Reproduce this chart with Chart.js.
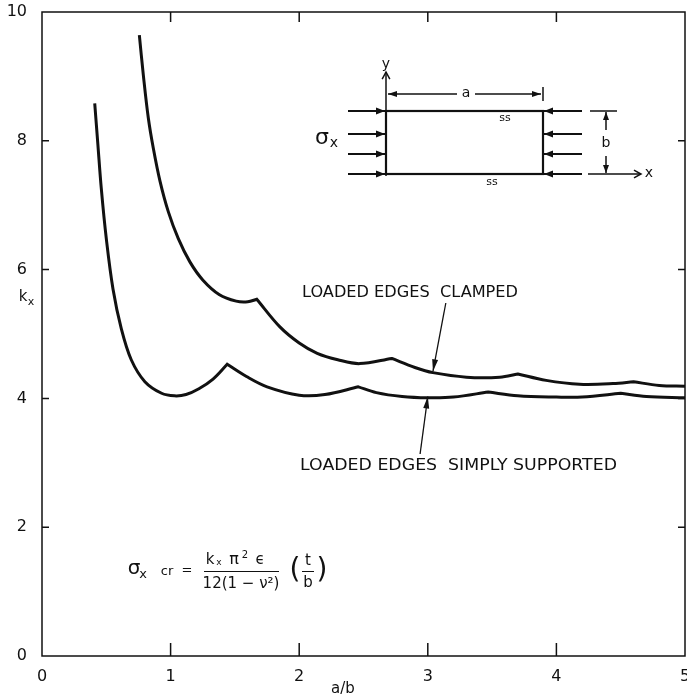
<!DOCTYPE html>
<html>
<head>
<meta charset="utf-8">
<script src="https://cdn.jsdelivr.net/npm/chart.js@4"></script>
<style>
  html, body { margin: 0; background: #fff; }
</style>
</head>
<body>
<canvas id="chart" width="687" height="698"></canvas>
<script>
// Values: buckling coefficient k_x against aspect ratio a/b
// (cusp points are listed twice so the corners stay sharp)
const ssAspect = [0.41, 0.435, 0.461, 0.5, 0.552, 0.617, 0.694, 0.8, 0.93, 1.03, 1.12, 1.22, 1.33,
  1.44, 1.44, 1.59, 1.75, 2.0, 2.2, 2.46, 2.46, 2.6, 2.8, 3.0, 3.2, 3.47, 3.47, 3.7, 4.0, 4.2,
  4.5, 4.5, 4.7, 5.0];
const ssK = [8.58, 7.93, 7.26, 6.48, 5.7, 5.08, 4.6, 4.26, 4.08, 4.04, 4.06, 4.15, 4.3,
  4.53, 4.53, 4.34, 4.18, 4.05, 4.06, 4.18, 4.18, 4.09, 4.03, 4.01, 4.02, 4.1, 4.1, 4.04, 4.02, 4.02,
  4.08, 4.08, 4.03, 4.01];

const clAspect = [0.757, 0.788, 0.827, 0.866, 0.918, 0.982, 1.06, 1.15, 1.25, 1.38, 1.51, 1.6,
  1.67, 1.67, 1.85, 2.0, 2.14, 2.3, 2.47, 2.72, 2.72, 2.9, 3.04, 3.3, 3.56, 3.7, 3.7, 3.92, 4.18,
  4.44, 4.6, 4.6, 4.8, 5.0];
const clK = [9.64, 9.02, 8.35, 7.88, 7.37, 6.9, 6.48, 6.12, 5.84, 5.61, 5.51, 5.5,
  5.54, 5.54, 5.11, 4.86, 4.7, 4.6, 4.54, 4.62, 4.62, 4.48, 4.4, 4.33, 4.33, 4.38, 4.38, 4.28, 4.22,
  4.23, 4.26, 4.26, 4.2, 4.19];

const xTicks = [1, 2, 3, 4];
const yTicks = [2, 4, 6, 8];

const INK = '#111';
const FONT = '"DejaVu Sans", sans-serif';

const toPoints = (xs, ys) => xs.map((x, i) => ({ x, y: ys[i] }));

function arrow(ctx, x1, y1, x2, y2, head = 8, half = 3.5) {
  ctx.beginPath(); ctx.moveTo(x1, y1); ctx.lineTo(x2, y2); ctx.stroke();
  const a = Math.atan2(y2 - y1, x2 - x1);
  const bx = x2 - head * Math.cos(a), by = y2 - head * Math.sin(a);
  ctx.beginPath();
  ctx.moveTo(x2, y2);
  ctx.lineTo(bx + half * Math.sin(a), by - half * Math.cos(a));
  ctx.lineTo(bx - half * Math.sin(a), by + half * Math.cos(a));
  ctx.closePath(); ctx.fill();
}

function openArrow(ctx, x1, y1, x2, y2, head = 8) {
  ctx.beginPath(); ctx.moveTo(x1, y1); ctx.lineTo(x2, y2); ctx.stroke();
  const a = Math.atan2(y2 - y1, x2 - x1);
  ctx.beginPath();
  ctx.moveTo(x2 - head * Math.cos(a - 0.5), y2 - head * Math.sin(a - 0.5));
  ctx.lineTo(x2, y2);
  ctx.lineTo(x2 - head * Math.cos(a + 0.5), y2 - head * Math.sin(a + 0.5));
  ctx.stroke();
}

// text stretched to a given width, left edge at x
function fitText(ctx, str, x, y, width) {
  const w = ctx.measureText(str).width;
  ctx.save();
  ctx.translate(x, y);
  ctx.scale(width / w, 1);
  ctx.textAlign = 'left';
  ctx.fillText(str, 0, 0);
  ctx.restore();
}

const decorations = {
  id: 'decorations',
  afterDraw(chart) {
    const { ctx, chartArea: ca, scales: { x, y } } = chart;
    ctx.save();
    ctx.strokeStyle = INK; ctx.fillStyle = INK;

    // frame + inward ticks
    ctx.lineWidth = 1.5;
    ctx.strokeRect(ca.left, ca.top, ca.right - ca.left, ca.bottom - ca.top);
    ctx.beginPath();
    xTicks.forEach(v => {
      const px = x.getPixelForValue(v);
      ctx.moveTo(px, ca.bottom); ctx.lineTo(px, ca.bottom - 13);
      ctx.moveTo(px, ca.top); ctx.lineTo(px, ca.top + 10);
    });
    yTicks.forEach(v => {
      const py = y.getPixelForValue(v);
      ctx.moveTo(ca.left, py); ctx.lineTo(ca.left + 7, py);
      ctx.moveTo(ca.right, py); ctx.lineTo(ca.right - 7, py);
    });
    ctx.stroke();

    // axis titles
    ctx.textBaseline = 'middle';
    ctx.textAlign = 'center';
    ctx.font = '15px ' + FONT;
    ctx.fillText('a/b', 343, 689);
    ctx.fillText('k', 23, 297);
    ctx.font = '11px ' + FONT;
    ctx.fillText('x', 31, 302);

    // inset: plate under compression
    ctx.lineWidth = 2.2;
    ctx.strokeRect(386, 111, 157, 63);
    ctx.lineWidth = 2;
    [111, 134, 154, 174].forEach(py => {
      arrow(ctx, 348, py, 385, py, 9, 3.5);
      arrow(ctx, 582, py, 544, py, 9, 3.5);
    });
    ctx.lineWidth = 1.5;
    ctx.beginPath(); ctx.moveTo(590, 111); ctx.lineTo(617, 111); ctx.stroke();
    openArrow(ctx, 588, 174, 641, 174, 8);
    openArrow(ctx, 386, 176, 386, 72, 8);
    arrow(ctx, 606, 130, 606, 112, 8, 3);
    arrow(ctx, 606, 156, 606, 173, 8, 3);
    arrow(ctx, 457, 94, 388, 94, 9, 3);
    arrow(ctx, 475, 94, 541, 94, 9, 3);
    ctx.beginPath(); ctx.moveTo(543, 87); ctx.lineTo(543, 101); ctx.stroke();

    ctx.font = '14px ' + FONT;
    ctx.fillText('y', 386, 64);
    ctx.fillText('x', 649, 173);
    ctx.fillText('a', 466, 93);
    ctx.fillText('b', 606, 143);
    ctx.font = '11px ' + FONT;
    ctx.fillText('ss', 505, 118);
    ctx.fillText('ss', 492, 182);
    ctx.font = '22px ' + FONT;
    ctx.fillText('σ', 322, 138);
    ctx.font = '14px ' + FONT;
    ctx.fillText('x', 334, 143);

    // curve labels with pointer arrows
    ctx.font = '16px ' + FONT;
    fitText(ctx, 'LOADED EDGES  CLAMPED', 302, 293, 216);
    fitText(ctx, 'LOADED EDGES  SIMPLY SUPPORTED', 300, 466, 317);
    ctx.lineWidth = 1.3;
    arrow(ctx, x.getPixelForValue(3.14), 303, x.getPixelForValue(3.04), y.getPixelForValue(4.42), 12, 3);
    arrow(ctx, x.getPixelForValue(2.94), 454, x.getPixelForValue(3.0), y.getPixelForValue(4.03), 12, 3);

    // critical stress formula
    ctx.font = '20px ' + FONT;
    ctx.fillText('σ', 134, 569);
    ctx.font = '13px ' + FONT;
    ctx.fillText('x', 143, 575);
    ctx.fillText('cr', 167, 572);
    ctx.fillText('=', 187, 571);
    ctx.font = '15px ' + FONT;
    ctx.fillText('k', 210, 560);
    ctx.font = '9px ' + FONT;
    ctx.fillText('x', 219, 563);
    ctx.font = '16px ' + FONT;
    ctx.fillText('π', 234, 560);
    ctx.font = '10px ' + FONT;
    ctx.fillText('2', 245, 555);
    ctx.font = '15px ' + FONT;
    ctx.fillText('ϵ', 260, 560);
    ctx.fillText('12(1 − ν²)', 241, 584);
    ctx.fillText('t', 308, 561);
    ctx.fillText('b', 308, 583);
    ctx.font = '28px ' + FONT;
    ctx.fillText('(', 295, 571);
    ctx.fillText(')', 322, 571);
    ctx.lineWidth = 1;
    ctx.beginPath();
    ctx.moveTo(204, 571.5); ctx.lineTo(279, 571.5);
    ctx.moveTo(302, 571.5); ctx.lineTo(314, 571.5);
    ctx.stroke();

    ctx.restore();
  }
};

new Chart(document.getElementById('chart'), {
  type: 'scatter',
  data: {
    datasets: [
      { data: toPoints(clAspect, clK), showLine: true, borderColor: INK, borderWidth: 3,
        pointRadius: 0, tension: 0.35 },
      { data: toPoints(ssAspect, ssK), showLine: true, borderColor: INK, borderWidth: 3,
        pointRadius: 0, tension: 0.35 }
    ]
  },
  options: {
    responsive: false,
    animation: false,
    devicePixelRatio: 1,
    layout: { padding: { top: 12, right: 2, left: 0, bottom: 0 } },
    plugins: { legend: { display: false }, tooltip: { enabled: false } },
    scales: {
      x: {
        min: 0, max: 5,
        grid: { display: false }, border: { display: false },
        ticks: { stepSize: 1, color: INK, font: { family: FONT, size: 16 }, padding: 3, maxRotation: 0 },
        afterFit: s => { s.height = 42; s.paddingLeft = 0; s.paddingRight = 0; }
      },
      y: {
        min: 0, max: 10,
        grid: { display: false }, border: { display: false },
        ticks: { stepSize: 2, color: INK, font: { family: FONT, size: 16 }, padding: 7 },
        afterFit: s => { s.width = 42; s.paddingTop = 0; s.paddingBottom = 0; }
      }
    }
  },
  plugins: [decorations]
});
</script>
</body>
</html>
